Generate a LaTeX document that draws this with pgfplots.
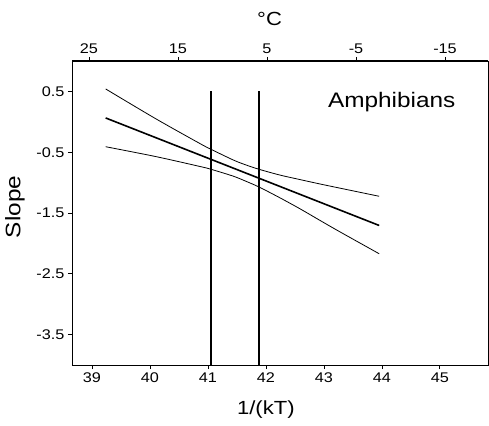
\documentclass[border=0pt]{standalone}
\usepackage{pgfplots}
\pgfplotsset{compat=1.18}
\usepackage{fontspec}
\setmainfont[FakeStretch=1.16]{Liberation Sans}
\newcommand{\tickfont}{\fontsize{14bp}{16bp}\selectfont}
\newcommand{\labfont}{\fontsize{19bp}{22bp}\selectfont}
\begin{document}
\begin{tikzpicture}
\begin{axis}[name=ax, scale only axis, width=416bp, height=304bp,
  xmin=38.655, xmax=45.83, ymin=-4, ymax=1,
  xtick={39,40,41,42,43,44,45}, xticklabels={39,40,41,42,43,44,45},
  ytick={0.5,-0.5,-1.5,-2.5,-3.5}, yticklabels={0.5,-0.5,-1.5,-2.5,-3.5},
  xtick pos=left, ytick pos=left, tick align=outside,
  major tick length=4bp, axis line style={line width=1pt},
  major tick style={line width=0.8pt, black},
  tick label style={font=\tickfont},
  xlabel={1/(kT)}, ylabel={Slope},
  label style={font=\labfont},
  xlabel style={at={(axis description cs:0.466,-0.148)}, anchor=center},
  ylabel style={at={(axis description cs:-0.137,0.52)}, anchor=center, font=\fontsize{21bp}{24bp}\selectfont},
  clip=false]
\addplot[black, line width=0.8pt, smooth, tension=0.5] coordinates {
 (39.236,0.540) (40.100,0.050) (40.862,-0.358) (41.052,-0.452) (41.436,-0.628)
 (41.650,-0.708) (41.884,-0.782) (42.241,-0.876) (42.586,-0.950) (42.900,-1.016)
 (43.250,-1.086) (43.953,-1.225)};
\addplot[black, line width=1.6pt] coordinates {(39.236,0.063) (43.953,-1.705)};
\addplot[black, line width=0.8pt, smooth, tension=0.5] coordinates {
 (39.236,-0.410) (40.100,-0.572) (40.862,-0.735) (41.052,-0.781) (41.436,-0.894)
 (41.650,-0.976) (41.884,-1.074) (42.241,-1.250) (42.586,-1.430) (42.900,-1.604)
 (43.250,-1.796) (43.953,-2.170)};
\addplot[black, line width=1.4pt] coordinates {(41.05,0.5) (41.05,-4)};
\addplot[black, line width=1.4pt] coordinates {(41.88,0.5) (41.88,-4)};
\node[anchor=base, font=\fontsize{21bp}{24bp}\selectfont] at (axis cs:44.17,0.243) {Amphibians};
\end{axis}
\begin{axis}[scale only axis, width=416bp, height=304bp,
  xmin=-19.83, xmax=26.91, x dir=reverse, ymin=0, ymax=1,
  axis x line*=top, axis y line=none, tick align=outside,
  xtick={25,15,5,-5,-15}, xticklabels={25,15,5,-5,-15},
  major tick length=4bp, axis line style={line width=1pt},
  major tick style={line width=0.8pt, black},
  tick label style={font=\tickfont},
  xlabel={°C}, label style={font=\labfont},
  xlabel style={at={(axis description cs:0.475,1.138)}, anchor=center}]
\end{axis}
\path (ax.south west) +(-72bp,-61bp) (ax.north east) +(1bp,61bp);
\end{tikzpicture}
\end{document}
